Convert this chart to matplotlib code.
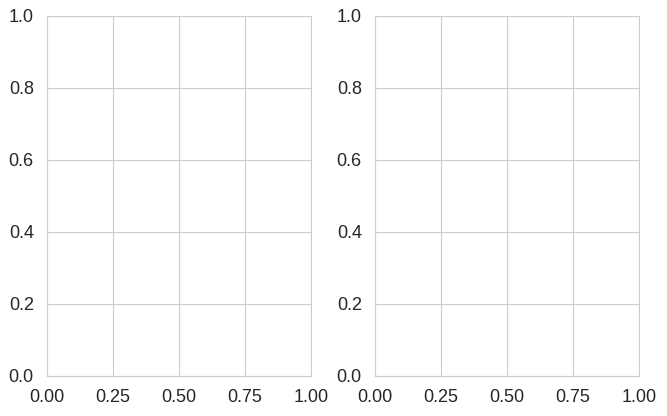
import matplotlib
matplotlib.use("Agg")
import matplotlib.pyplot as plt
import seaborn as sns

# two empty panels, default 0..1 axes
panel_count = 2
x_ticks = [0.0, 0.25, 0.5, 0.75, 1.0]
y_ticks = [0.0, 0.2, 0.4, 0.6, 0.8, 1.0]

sns.set_theme(style="whitegrid")
plt.rcParams['font.family'] = ['Liberation Sans', 'DejaVu Sans']
plt.rcParams['xtick.labelsize'] = 13
plt.rcParams['ytick.labelsize'] = 13
plt.rcParams['axes.linewidth'] = 0.8
plt.rcParams['grid.linewidth'] = 0.8

fig, axes = plt.subplots(1, panel_count, figsize=(6.67, 4.16), dpi=100)
for ax in axes:
    ax.set_xticks(x_ticks)
    ax.set_yticks(y_ticks)
    ax.set_xlim(0, 1)
    ax.set_ylim(0, 1)

plt.subplots_adjust(left=47/667, right=639/667, bottom=1-376/416, top=1-16/416, wspace=0.242)
plt.savefig("out.png", dpi=100)
